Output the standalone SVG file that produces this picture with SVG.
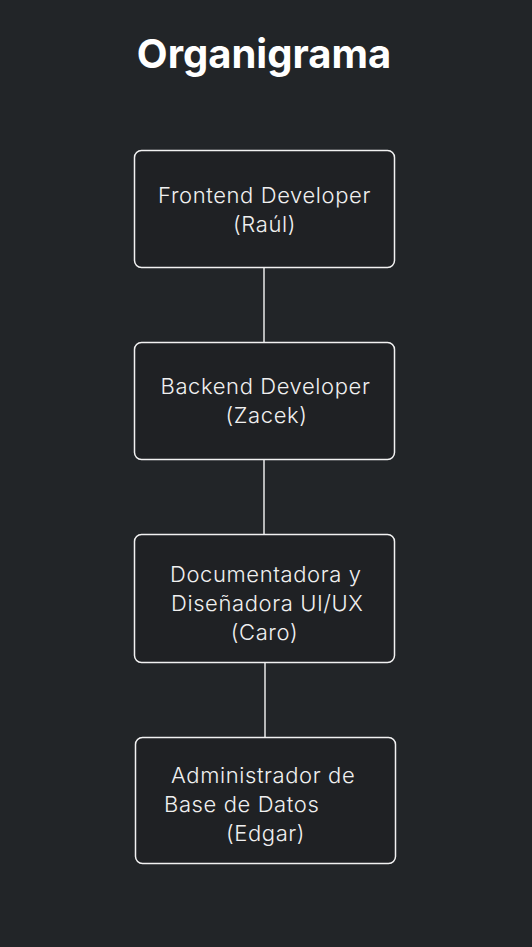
<svg xmlns="http://www.w3.org/2000/svg" width="532" height="947" viewBox="0 0 532 947">
<style>
.bg{fill:#222528}
.box{fill:#1f2124;stroke:#f2f2f2;stroke-width:1.5}
.t{font-family:Inter,"Noto Sans",sans-serif;font-size:22px;font-weight:300;letter-spacing:0.6px;fill:#f0f0f0}
.c{text-anchor:middle}
.title{font-family:Inter,"Noto Sans",sans-serif;font-size:40px;font-weight:bold;fill:#ffffff;text-anchor:middle}
.ln{stroke:#e8e8e8;stroke-width:1.5;fill:none}
</style>
<rect class="bg" x="0" y="0" width="532" height="947"/>
<text class="title" x="264" y="68">Organigrama</text>
<g id="connectors">
<line class="ln" x1="264" y1="268" x2="264" y2="342"/>
<line class="ln" x1="264" y1="460" x2="264" y2="534"/>
<line class="ln" x1="265" y1="663" x2="265" y2="737"/>
</g>
<g id="n1">
<rect class="box" x="134.5" y="150.5" width="260" height="117" rx="7"/>
<text class="t c" x="264.5" y="203">Frontend Developer</text>
<text class="t c" x="264.5" y="232">(Raúl)</text>
</g>
<g id="n2">
<rect class="box" x="134.5" y="342.5" width="260" height="117" rx="7"/>
<text class="t c" x="265.5" y="394">Backend Developer</text>
<text class="t c" x="266.5" y="423">(Zacek)</text>
</g>
<g id="n3">
<rect class="box" x="134.5" y="534.5" width="260" height="128" rx="7"/>
<text class="t" x="170" y="582">Documentadora y</text>
<text class="t" x="171" y="611">Diseñadora UI/UX</text>
<text class="t c" x="264.5" y="640">(Caro)</text>
</g>
<g id="n4">
<rect class="box" x="135.5" y="737.5" width="260" height="126" rx="7"/>
<text class="t" x="171" y="783">Administrador de</text>
<text class="t" x="164" y="812">Base de Datos</text>
<text class="t" x="226" y="841">(Edgar)</text>
</g>
</svg>
